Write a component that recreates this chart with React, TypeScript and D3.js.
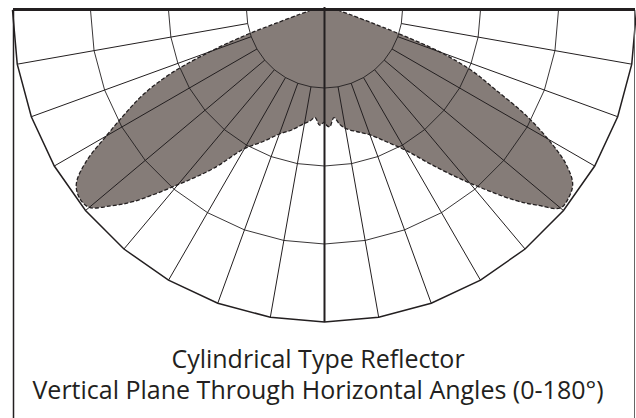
import React, { useEffect, useRef } from "react";
import * as d3 from "d3";

// vertical angle from nadir (deg) and relative intensity (outer ring = 100)
export const angles = [
  0, 2.5, 5, 7.5, 10, 15, 20, 25, 30, 35, 40, 45, 47.5, 50, 52.5, 55, 57.5, 60,
  62.5, 65, 67.5, 70, 72.5, 75, 80, 85, 90,
];
// 180° side (left half)
export const leftValues = [
  35.9, 36.9, 34.6, 35.9, 36.9, 39.7, 42.3, 46.5, 51.3, 61.9, 73.1, 86.9, 92.9,
  98.4, 99.0, 97.1, 90.7, 80.8, 72.1, 64.1, 53.5, 39.1, 25.6, 15.4, 8.3, 5.4, 4.2,
];
// 0° side (right half)
export const rightValues = [
  36.2, 37.5, 34.6, 36.9, 38.5, 40.4, 42.6, 46.5, 51.9, 60.9, 72.4, 86.2, 92.6,
  98.7, 98.7, 97.1, 91.7, 82.7, 72.4, 60.5, 51.5, 39.5, 24.0, 15.1, 8.3, 5.4, 4.2,
];
export const ringValues = [25, 50, 75, 100];
export const spokeAngles = [-80, -70, -60, -50, -40, -30, -20, -10, 10, 20, 30, 40, 50, 60, 70, 80];
export const titleLines = [
  "Cylindrical Type Reflector",
  "Vertical Plane Through Horizontal Angles (0-180°)",
];

const width = 636;
const height = 418;
const cx = 324.5;
const cy = 10;
const outerRadius = 312;
const ink = "#231f20";

const CandelaChart = () => {
  const ref = useRef<SVGSVGElement>(null);

  useEffect(() => {
    const svg = d3.select(ref.current);
    svg.selectAll("*").remove();

    const r = d3.scaleLinear().domain([0, 100]).range([0, outerRadius]);
    const toRad = (deg: number) => (deg * Math.PI) / 180;

    // angle measured from straight down, negative values to the left
    const radial = d3
      .lineRadial<[number, number]>()
      .angle((d) => Math.PI - toRad(d[0]))
      .radius((d) => r(d[1]));

    const g = svg.append("g").attr("transform", `translate(${cx}, ${cy})`);

    // distribution shape
    const shapePoints: [number, number][] = [];
    for (let i = angles.length - 1; i >= 0; i--) shapePoints.push([-angles[i], leftValues[i]]);
    for (let i = 0; i < angles.length; i++) shapePoints.push([angles[i], rightValues[i]]);

    const shapeLine = radial.curve(d3.curveCatmullRom.alpha(0.5));
    const shapePath = shapeLine(shapePoints) + "Z";

    g.append("path").attr("d", shapePath).attr("fill", "#857c78").attr("stroke", "none");

    // rings (polygonal, vertex on every spoke)
    const ringAngles = d3.range(-90, 91, 10);
    const ringLine = d3
      .lineRadial<[number, number]>()
      .angle((d) => Math.PI - toRad(d[0]))
      .radius((d) => r(d[1]))
      .curve(d3.curveLinear);

    ringValues.forEach((v) => {
      g.append("path")
        .attr("d", ringLine(ringAngles.map((a) => [a, v] as [number, number])))
        .attr("fill", "none")
        .attr("stroke", ink)
        .attr("stroke-width", v === 100 ? 1.5 : 0.9);
    });

    // spokes from first ring to outer ring
    spokeAngles.forEach((a) => {
      g.append("line")
        .attr("x1", r(ringValues[0]) * Math.sin(toRad(a)))
        .attr("y1", r(ringValues[0]) * Math.cos(toRad(a)))
        .attr("x2", r(100) * Math.sin(toRad(a)))
        .attr("y2", r(100) * Math.cos(toRad(a)))
        .attr("stroke", ink)
        .attr("stroke-width", 1);
    });

    // nadir axis
    g.append("line")
      .attr("x1", 0)
      .attr("y1", -3)
      .attr("x2", 0)
      .attr("y2", r(100))
      .attr("stroke", ink)
      .attr("stroke-width", 2);

    // dashed outline on top
    g.append("path")
      .attr("d", shapePath)
      .attr("fill", "none")
      .attr("stroke", ink)
      .attr("stroke-width", 1.3)
      .attr("stroke-dasharray", "4,2");

    // frame
    svg.append("line")
      .attr("x1", 13.5).attr("y1", 9.5).attr("x2", 13.5).attr("y2", height)
      .attr("stroke", ink).attr("stroke-width", 1.5);
    svg.append("line")
      .attr("x1", 634.5).attr("y1", 9.5).attr("x2", 634.5).attr("y2", height)
      .attr("stroke", "#666").attr("stroke-width", 1);
    svg.append("line")
      .attr("x1", 13).attr("y1", 9.5).attr("x2", 635).attr("y2", 9.5)
      .attr("stroke", ink).attr("stroke-width", 3);

    // title
    svg.selectAll("text.title")
      .data(titleLines)
      .enter()
      .append("text")
      .attr("class", "title")
      .attr("x", 318)
      .attr("y", (_d, i) => 368 + i * 31)
      .attr("text-anchor", "middle")
      .attr("fill", ink)
      .style("font-family", "'Open Sans', sans-serif")
      .style("font-size", "25px")
      .text((d) => d);
  }, []);

  return (
    <svg
      ref={ref}
      width={width}
      height={height}
      style={{ position: "absolute", left: 0, top: 0, background: "#fff" }}
    />
  );
};

export default function App() {
  return <CandelaChart />;
}
